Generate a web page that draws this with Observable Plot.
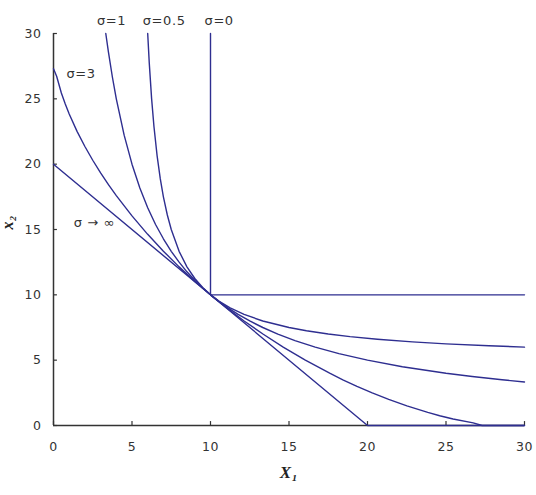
<!DOCTYPE html>
<html>
<head>
<meta charset="utf-8">
<script src="https://cdn.jsdelivr.net/npm/d3@7"></script>
<script src="https://cdn.jsdelivr.net/npm/@observablehq/plot@0.6"></script>
<style>
  html, body { margin: 0; padding: 0; background: #fff; }
  #chart { width: 536px; height: 495px; }
</style>
</head>
<body>
<div id="chart"></div>
<script>
// Isoquant points (x1, x2)
const sigmaInf = [[0, 20], [20, 0], [30, 0]];
const sigma3 = [[0, 27.3], [0.2, 26.73], [0.5, 25.45], [0.75, 24.6], [1, 23.84], [1.5, 22.51], [2, 21.35], [2.5, 20.3], [3, 19.33], [3.5, 18.43], [4, 17.59], [5, 16.04], [6, 14.63], [7, 13.34], [8, 12.14], [9, 11.03], [10, 10],
  [11.03, 9], [12.14, 8], [13.34, 7], [14.63, 6], [16.04, 5], [17.59, 4], [18.43, 3.5], [19.33, 3], [20.3, 2.5], [21.35, 2], [22.51, 1.5], [23.84, 1], [24.6, 0.75], [25.45, 0.5], [26.73, 0.2], [27.3, 0], [30, 0]];
const sigma1 = [[3.33, 30], [3.5, 28.57], [3.75, 26.67], [4, 25], [4.5, 22.22], [5, 20], [5.5, 18.18], [6, 16.67], [6.5, 15.38], [7, 14.29], [7.5, 13.33], [8, 12.5], [8.5, 11.76], [9, 11.11], [9.5, 10.53], [10, 10],
  [10.53, 9.5], [11.11, 9], [11.76, 8.5], [12.5, 8], [13.33, 7.5], [14.29, 7], [15.38, 6.5], [16.67, 6], [18.18, 5.5], [20, 5], [22.22, 4.5], [25, 4], [26.67, 3.75], [28.57, 3.5], [30, 3.33]];
const sigma05 = [[6, 30], [6.1, 27.73], [6.25, 25], [6.4, 22.86], [6.6, 20.63], [6.8, 18.89], [7, 17.5], [7.25, 16.11], [7.5, 15], [8, 13.33], [8.5, 12.14], [9, 11.25], [9.5, 10.56], [10, 10],
  [10.56, 9.5], [11.25, 9], [12.14, 8.5], [13.33, 8], [15, 7.5], [16.11, 7.25], [17.5, 7], [18.89, 6.8], [20.63, 6.6], [22.86, 6.4], [25, 6.25], [27.73, 6.1], [30, 6]];
const sigma0 = [[10, 30], [10, 10], [30, 10]];

const xTicks = [0, 5, 10, 15, 20, 25, 30];
const yTicks = [0, 5, 10, 15, 20, 25, 30];

const curveLabels = ["σ=1", "σ=0.5", "σ=0", "σ=3", "σ → ∞"];
const labelX = [3.7, 7.05, 10.55, 1.75, 2.6];
const labelY = [30.95, 30.95, 30.95, 26.9, 15.5];

const series = [
  {name: "inf", pts: sigmaInf},
  {name: "3", pts: sigma3},
  {name: "1", pts: sigma1},
  {name: "0.5", pts: sigma05},
  {name: "0", pts: sigma0}
];
const lineData = series.flatMap(s => s.pts.map(([x, y]) => ({s: s.name, x, y})));
const labelData = curveLabels.map((t, i) => ({t, x: labelX[i], y: labelY[i]}));

const lineColor = "#2e2e90";
const axisColor = "#333";

const plot = Plot.plot({
  width: 536,
  height: 495,
  marginLeft: 53,
  marginRight: 12,
  marginTop: 33,
  marginBottom: 70,
  style: {fontFamily: "DejaVu Sans", fontSize: "12.5px", color: axisColor, background: "#fff", letterSpacing: "0.6px"},
  x: {domain: [0, 30], ticks: xTicks, label: null},
  y: {domain: [0, 30], ticks: yTicks, label: null},
  marks: [
    Plot.axisX({ticks: xTicks, tickSize: 0, tickPadding: 17, tickFormat: d => String(d), label: null}),
    Plot.axisY({ticks: yTicks, tickSize: 0, tickPadding: 12, tickFormat: d => String(d), label: null}),
    Plot.ruleX(xTicks, {x: d => d, y1: 0, y2: 0.3, stroke: axisColor, strokeWidth: 1.2}),
    Plot.ruleY(yTicks, {y: d => d, x1: 0, x2: 0.25, stroke: axisColor, strokeWidth: 1.2}),
    Plot.ruleY([0], {stroke: axisColor, strokeWidth: 1.5}),
    Plot.ruleX([0], {stroke: axisColor, strokeWidth: 1.5}),
    Plot.line(lineData, {x: "x", y: "y", z: "s", stroke: lineColor, strokeWidth: 1.4, curve: "linear"}),
    Plot.text(labelData, {x: "x", y: "y", text: "t", fill: axisColor, fontSize: 13, clip: false}),
    Plot.text(["X₁"], {frameAnchor: "bottom", dy: 52, text: d => d, fontFamily: "Liberation Serif", fontStyle: "italic", fontWeight: "bold", fontSize: 17, fill: "#222"}),
    Plot.text(["x₂"], {frameAnchor: "left", dx: -46, text: d => d, rotate: -90, fontFamily: "Liberation Serif", fontStyle: "italic", fontWeight: "bold", fontSize: 16, fill: "#222"})
  ]
});
document.getElementById("chart").appendChild(plot);
</script>
</body>
</html>
